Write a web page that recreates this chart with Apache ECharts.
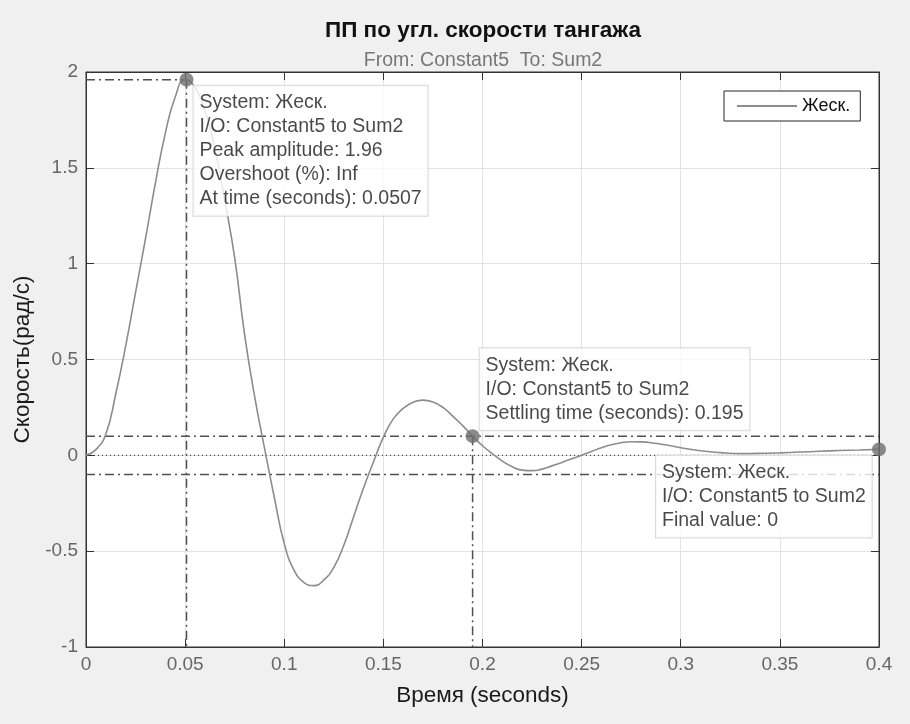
<!DOCTYPE html>
<html>
<head>
<meta charset="utf-8">
<script src="https://cdn.jsdelivr.net/npm/echarts@6/dist/echarts.min.js"></script>
<style>
  html, body { margin: 0; padding: 0; background: #f0f0f0; }
  #chart { width: 910px; height: 724px; }
</style>
</head>
<body>
<div id="chart"></div>
<script>
// step response, every 5 ms (10 ms at the flat tail)
const timeS = [0, 0.005, 0.01, 0.015, 0.02, 0.025, 0.03, 0.035, 0.04, 0.045, 0.05,
    0.055, 0.06, 0.065, 0.07, 0.075, 0.08, 0.085, 0.09, 0.095, 0.1,
    0.105, 0.11, 0.115, 0.12, 0.125, 0.13, 0.135, 0.14, 0.145, 0.15,
    0.155, 0.16, 0.165, 0.17, 0.175, 0.18, 0.185, 0.19, 0.195, 0.2,
    0.205, 0.21, 0.215, 0.22, 0.225, 0.23, 0.235, 0.24, 0.245, 0.25,
    0.255, 0.26, 0.265, 0.27, 0.275, 0.28, 0.285, 0.29, 0.295, 0.3,
    0.31, 0.32, 0.33, 0.34, 0.35, 0.36, 0.37, 0.38, 0.39, 0.4];
const speed = [0, 0.03, 0.11, 0.32, 0.57, 0.85, 1.13, 1.42, 1.68, 1.87, 1.96,
    1.92, 1.8, 1.6, 1.33, 1.03, 0.63, 0.31, 0.04, -0.22, -0.46,
    -0.6, -0.664, -0.68, -0.65, -0.585, -0.47, -0.32, -0.17, -0.035, 0.095,
    0.19, 0.245, 0.277, 0.288, 0.278, 0.25, 0.205, 0.155, 0.1, 0.05,
    0.008, -0.03, -0.06, -0.077, -0.08, -0.072, -0.055, -0.037, -0.018, 0,
    0.02, 0.04, 0.055, 0.066, 0.071, 0.07, 0.066, 0.058, 0.05, 0.04,
    0.024, 0.014, 0.009, 0.01, 0.013, 0.017, 0.021, 0.025, 0.028, 0.031];

const peakPoint = [0.0507, 1.96];
const settlingPoint = [0.195, 0.1];
const finalPoint = [0.4, 0.031];
const settleBand = [0.1, -0.1];
const xTicks = [0, 0.4, 0.05];
const yTicks = [-1, 2, 0.5];

const systemName = 'Жеск.';
const peakTip = ['System: Жеск.', 'I/O: Constant5 to Sum2', 'Peak amplitude: 1.96', 'Overshoot (%): Inf', 'At time (seconds): 0.0507'];
const settlingTip = ['System: Жеск.', 'I/O: Constant5 to Sum2', 'Settling time (seconds): 0.195'];
const finalTip = ['System: Жеск.', 'I/O: Constant5 to Sum2', 'Final value: 0'];

const FONT = '"Liberation Sans", Arial, sans-serif';
const refColor = '#505050';
const dashDot = [9, 4, 2, 4];

const chart = echarts.init(document.getElementById('chart'));

function refLine(data, type) {
    return {
        type: 'line',
        data: data,
        symbol: 'none',
        silent: true,
        z: 3,
        lineStyle: { color: type === 'dot' ? '#222' : refColor, width: type === 'dot' ? 1 : 1.5, type: type === 'dot' ? [1, 3] : dashDot }
    };
}

function tip(point, lines, pos) {
    return {
        type: 'scatter',
        data: [point],
        symbolSize: 14,
        z: 10,
        itemStyle: { color: '#6e6e6e' },
        label: {
            show: true,
            position: pos,
            formatter: lines.join('\n'),
            fontFamily: FONT,
            fontSize: 19.5,
            lineHeight: 24,
            color: '#1a1a1a',
            backgroundColor: '#fff',
            borderColor: '#d0d0d0',
            borderWidth: 1,
            padding: [5, 6, 5, 6]
        }
    };
}

const tickAxisX = {
    type: 'value', min: xTicks[0], max: xTicks[1], interval: xTicks[2],
    axisLine: { onZero: false, lineStyle: { color: '#333', width: 1 } },
    axisTick: { inside: true, length: 8, lineStyle: { color: '#333' } },
    splitLine: { show: false }
};
const tickAxisY = {
    type: 'value', min: yTicks[0], max: yTicks[1], interval: yTicks[2],
    axisLine: { onZero: false, lineStyle: { color: '#333', width: 1 } },
    axisTick: { inside: true, length: 8, lineStyle: { color: '#333' } },
    splitLine: { show: false }
};

const option = {
    backgroundColor: '#f0f0f0',
    animation: false,
    title: {
        text: 'ПП по угл. скорости тангажа',
        subtext: 'From: Constant5  To: Sum2',
        left: 478,
        top: 14,
        textAlign: 'center',
        itemGap: 9,
        textStyle: { fontFamily: FONT, fontSize: 22.5, fontWeight: 'bold', color: '#111' },
        subtextStyle: { fontFamily: FONT, fontSize: 19.5, color: '#777' }
    },
    legend: {
        data: [systemName],
        left: 724,
        top: 91,
        padding: [6, 10, 6, 13],
        backgroundColor: '#fff',
        borderColor: '#262626',
        borderWidth: 1,
        borderRadius: 0,
        icon: 'rect',
        itemWidth: 60,
        itemHeight: 2,
        textStyle: { fontFamily: FONT, fontSize: 18, color: '#111' }
    },
    grid: { left: 86, right: 31, top: 72, bottom: 77, backgroundColor: '#fff', show: true, borderColor: '#333', borderWidth: 1 },
    xAxis: [
        Object.assign({}, tickAxisX, {
            position: 'bottom',
            name: 'Время (seconds)',
            nameLocation: 'middle',
            nameGap: 37,
            nameTextStyle: { fontFamily: FONT, fontSize: 22.5, color: '#1a1a1a' },
            axisLabel: { fontFamily: FONT, fontSize: 19, color: '#666', margin: 8, formatter: v => String(+v.toFixed(2)) },
            splitLine: { show: true, lineStyle: { color: '#e2e2e2', width: 1 } }
        }),
        Object.assign({}, tickAxisX, { position: 'top', axisLabel: { show: false } })
    ],
    yAxis: [
        Object.assign({}, tickAxisY, {
            position: 'left',
            name: 'Скорость(рад/с)',
            nameLocation: 'middle',
            nameGap: 36,
            nameTextStyle: { fontFamily: FONT, fontSize: 22.5, color: '#1a1a1a' },
            axisLabel: { fontFamily: FONT, fontSize: 19, color: '#666', margin: 8 },
            splitLine: { show: true, lineStyle: { color: '#e2e2e2', width: 1 } }
        }),
        Object.assign({}, tickAxisY, { position: 'right', axisLabel: { show: false } })
    ],
    series: [
        refLine([[xTicks[0], 0], [xTicks[1], 0]], 'dot'),
        refLine([[xTicks[0], settleBand[0]], [xTicks[1], settleBand[0]]]),
        refLine([[xTicks[0], settleBand[1]], [xTicks[1], settleBand[1]]]),
        refLine([[xTicks[0], peakPoint[1]], peakPoint]),
        refLine([peakPoint, [peakPoint[0], yTicks[0]]]),
        refLine([settlingPoint, [settlingPoint[0], yTicks[0]]]),
        {
            name: systemName,
            type: 'line',
            data: timeS.map((t, i) => [t, speed[i]]),
            symbol: 'none',
            smooth: 0.5,
            z: 4,
            color: '#8c8c8c',
            lineStyle: { color: '#8c8c8c', width: 1.6 }
        },
        tip(peakPoint, peakTip, [14, 13]),
        tip(settlingPoint, settlingTip, [14, -81]),
        tip(finalPoint, finalTip, [-216, 13])
    ]
};

chart.setOption(option);
</script>
</body>
</html>
